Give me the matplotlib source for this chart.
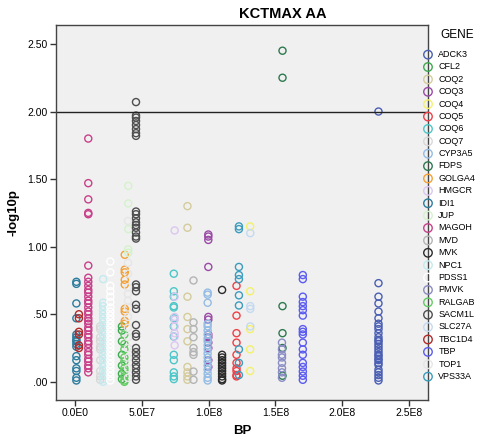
import numpy as np
import matplotlib.pyplot as plt

plt.rcParams['font.family'] = ['Liberation Sans', 'DejaVu Sans']

# genes, legend colours and position (BP)
genes = ['ADCK3', 'CFL2', 'COQ2', 'COQ3', 'COQ4', 'COQ5', 'COQ6', 'COQ7', 'CYP3A5',
         'FDPS', 'GOLGA4', 'HMGCR', 'IDI1', 'JUP', 'MAGOH', 'MVD', 'MVK', 'NPC1',
         'PDSS1', 'PMVK', 'RALGAB', 'SACM1L', 'SLC27A', 'TBC1D4', 'TBP', 'TOP1', 'VPS33A']
colors = ['#4a5fb4', '#3caa50', '#d4cc9c', '#9a4aa6', '#f4f06a', '#ee4048', '#4cc6c8', '#d8d8d8',
          '#94bce4', '#2e7a50', '#f4a034', '#dcc6f2', '#2c7c9e', '#d4f2cc', '#c8408a', '#b4b4b4',
          '#2a2a2a', '#c4eaee', '#ffffff', '#8a8cc4', '#62cc62', '#4e4e4e', '#c4daf0', '#b42a2a',
          '#5a5cf2', '#e6e6e6', '#3c9cbe']
bp = [2.271e8, 3.52e7, 8.42e7, 9.98e7, 1.311e8, 1.209e8, 7.40e7, 1.89e7, 9.93e7,
      1.553e8, 3.73e7, 7.46e7, 1.1e6, 3.99e7, 1.0e7, 8.87e7, 1.101e8, 2.11e7,
      2.65e7, 1.549e8, 3.70e7, 4.57e7, 1.312e8, 3.0e6, 1.705e8, 3.97e7, 1.227e8]

vals = {
    'ADCK3': [2.00, 0.73, 0.63, 0.58, 0.52, 0.47, 0.43, 0.41, 0.39, 0.36, 0.33, 0.31, 0.30, 0.28,
              0.26, 0.24, 0.22, 0.20, 0.19, 0.17, 0.16, 0.14, 0.125, 0.09, 0.07, 0.05, 0.03, 0.01],
    'CFL2': [0.41, 0.38, 0.30, 0.20, 0.12, 0.06, 0.02],
    'COQ2': [1.30, 1.14, 0.63, 0.48, 0.39, 0.30, 0.11, 0.07, 0.04, 0.015],
    'COQ3': [1.09, 1.075, 1.05, 0.85, 0.48, 0.46, 0.35, 0.33, 0.29, 0.25, 0.16, 0.11],
    'COQ4': [1.15, 0.67, 0.39, 0.24, 0.08],
    'COQ5': [0.71, 0.49, 0.36, 0.29, 0.20, 0.14, 0.10, 0.08, 0.05, 0.04],
    'COQ6': [0.80, 0.67, 0.63, 0.56, 0.55, 0.47, 0.41, 0.335, 0.20, 0.16, 0.07, 0.04, 0.02],
    'COQ7': [0.41, 0.39, 0.33, 0.30, 0.26, 0.24, 0.16, 0.08, 0.04, 0.015],
    'CYP3A5': [0.66, 0.645, 0.585, 0.43, 0.41, 0.38, 0.35, 0.32, 0.30, 0.27, 0.24, 0.21, 0.18,
               0.15, 0.12, 0.09, 0.06, 0.03, 0.01],
    'FDPS': [2.45, 2.25, 0.56, 0.36, 0.25, 0.045],
    'GOLGA4': [0.94, 0.83, 0.81, 0.755, 0.72, 0.54, 0.52, 0.45, 0.43],
    'HMGCR': [1.12, 0.63, 0.48, 0.46, 0.41, 0.36, 0.335, 0.27],
    'IDI1': [0.74, 0.725, 0.58, 0.47, 0.35, 0.33, 0.31, 0.30, 0.28, 0.26, 0.19, 0.16, 0.10,
             0.08, 0.03, 0.01],
    'JUP': [1.45, 1.32, 1.13, 0.98, 0.955],
    'MAGOH': [1.80, 1.47, 1.35, 1.25, 1.24, 0.86, 0.77, 0.74, 0.71, 0.68, 0.66, 0.63, 0.60, 0.58,
              0.55, 0.52, 0.50, 0.47, 0.45, 0.43, 0.40, 0.38, 0.35, 0.33, 0.30, 0.28, 0.25,
              0.22, 0.20, 0.17, 0.15, 0.12, 0.10, 0.07],
    'MVD': [0.75, 0.44, 0.39, 0.33, 0.25, 0.22, 0.20, 0.076, 0.015],
    'MVK': [0.68, 0.20, 0.18, 0.16, 0.14, 0.12, 0.10, 0.08, 0.06, 0.04, 0.02, 0.01],
    'NPC1': [0.76, 0.585, 0.56, 0.53, 0.50, 0.47, 0.44, 0.41, 0.38, 0.35, 0.32, 0.29, 0.26,
             0.23, 0.20, 0.17, 0.14, 0.11, 0.08, 0.05, 0.02, 0.00],
    'PDSS1': [0.89, 0.81, 0.71, 0.67, 0.63, 0.59, 0.55, 0.52, 0.49, 0.46, 0.43, 0.40, 0.37, 0.34,
              0.31, 0.28, 0.25, 0.22, 0.19, 0.16, 0.13, 0.10, 0.07, 0.04, 0.01],
    'PMVK': [0.29, 0.24, 0.20, 0.18, 0.14, 0.10, 0.07, 0.03],
    'RALGAB': [0.35, 0.28, 0.24, 0.18, 0.15, 0.10, 0.08, 0.04, 0.01, 0.00],
    'SACM1L': [2.07, 1.97, 1.955, 1.93, 1.90, 1.87, 1.84, 1.82, 1.26, 1.24, 1.21, 1.18, 1.16,
               1.14, 1.105, 1.075, 1.06, 0.72, 0.70, 0.67, 0.57, 0.54, 0.42, 0.355, 0.335,
               0.25, 0.22, 0.19, 0.16, 0.125, 0.10, 0.07, 0.04, 0.015],
    'SLC27A': [1.10, 0.56, 0.54, 0.41],
    'TBC1D4': [0.50, 0.47, 0.37, 0.35, 0.27, 0.25],
    'TBP': [0.79, 0.76, 0.63, 0.59, 0.56, 0.53, 0.49, 0.39, 0.37, 0.35, 0.29, 0.24, 0.20, 0.14,
            0.11, 0.076, 0.045, 0.015],
    'TOP1': [1.19, 0.88, 0.80, 0.70, 0.65, 0.60, 0.55, 0.48, 0.40, 0.33, 0.25, 0.18, 0.10, 0.03],
    'VPS33A': [1.15, 1.13, 0.85, 0.79, 0.76, 0.64, 0.565, 0.24, 0.14, 0.05],
}

fig = plt.figure(figsize=(4.78, 4.47), dpi=100)
ax = fig.add_axes([0.117, 0.105, 0.778, 0.839])
ax.set_facecolor('#f0f0f0')

for g, c, x in zip(genes, colors, bp):
    y = vals[g]
    ax.scatter([x] * len(y), y, s=26, facecolors='none', edgecolors=c, linewidths=1.0, label=g)

ax.axhline(2.0, color='#222222', lw=1.0)

ax.set_xlim(-1.42e7, 2.64e8)
ax.set_ylim(-0.135, 2.64)
ax.set_xticks([0, 5e7, 1e8, 1.5e8, 2e8, 2.5e8])
ax.set_xticklabels(['0.0E0', '5.0E7', '1.0E8', '1.5E8', '2.0E8', '2.5E8'])
ax.set_yticks([0, 0.5, 1.0, 1.5, 2.0, 2.5])
ax.set_yticklabels(['.00', '.50', '1.00', '1.50', '2.00', '2.50'])
ax.tick_params(labelsize=7.5, length=4, width=1, color='#333333', pad=2)
for s in ax.spines.values():
    s.set_color('#444444')
    s.set_linewidth(1.0)

ax.set_xlabel('BP', fontsize=9.5, fontweight='bold', labelpad=5)
ax.set_ylabel('-log10p', fontsize=9.5, fontweight='bold', labelpad=6)
fig.text(283 / 478, 1 - 14 / 447, 'KCTMAX AA', fontsize=10.5, fontweight='bold',
         ha='center', va='center')
fig.text(440 / 478, 1 - 35 / 447, 'GENE', fontsize=8.5, ha='left', va='center')

leg = ax.legend(loc='upper left', bbox_to_anchor=(0.884, 1 - 50 / 447), bbox_transform=fig.transFigure,
                frameon=False, fontsize=6.5, handletextpad=0.55, labelspacing=0.375,
                borderaxespad=0, borderpad=0, handlelength=1.2, markerscale=1.2)

fig.savefig('out.png', dpi=100)
